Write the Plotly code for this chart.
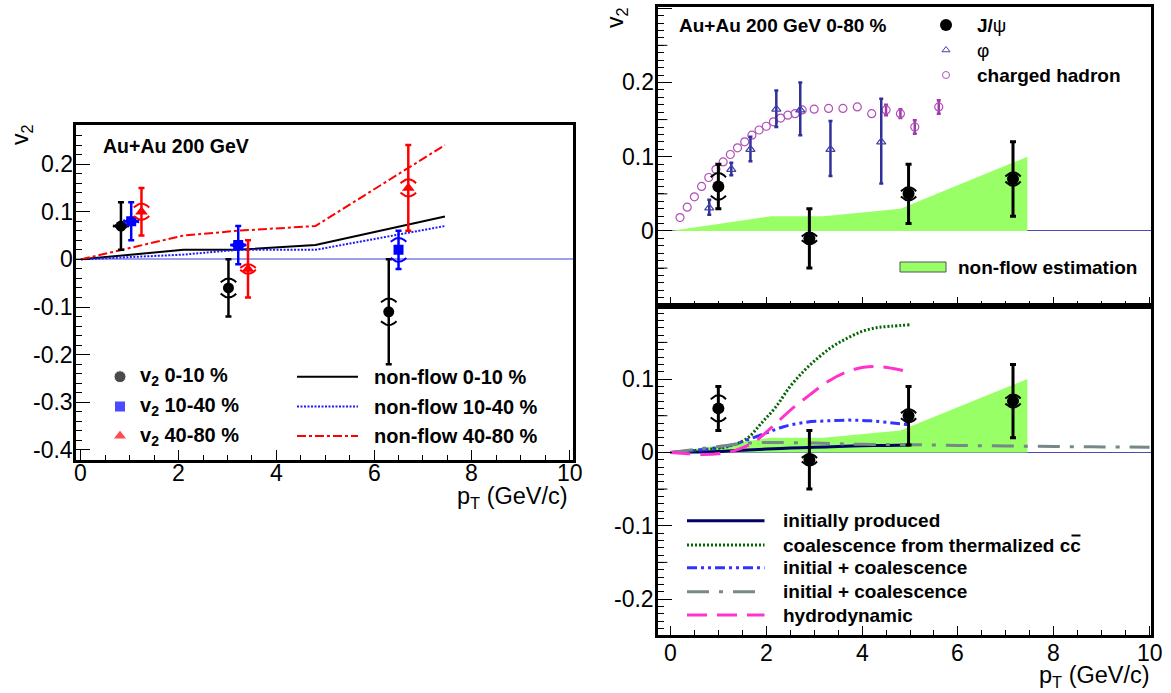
import plotly.graph_objects as go

W, H = 1171, 693

# ---------------- data : left panel (Au+Au 200 GeV, centrality classes) ----------------
c010_x = [0.82, 3.02, 6.30]
c010_y = [0.070, -0.060, -0.110]
c010_stat = [0.050, 0.060, 0.110]
c010_sys = [0.006, 0.020, 0.028]

c1040_x = [1.03, 3.22, 6.50]
c1040_y = [0.080, 0.030, 0.020]
c1040_stat = [0.040, 0.040, 0.040]
c1040_sys = [0.005, 0.006, 0.025]

c4080_x = [1.24, 3.42, 6.70]
c4080_y = [0.100, -0.020, 0.150]
c4080_stat = [0.050, 0.060, 0.090]
c4080_sys = [0.017, 0.010, 0.018]

nf_x = [0.0, 2.1, 3.2, 4.8, 7.45]
nf010_y = [0.0, 0.020, 0.020, 0.030, 0.090]
nf1040_y = [0.0, 0.010, 0.020, 0.020, 0.070]
nf4080_y = [0.0, 0.050, 0.060, 0.070, 0.240]

# ---------------- data : right panels (0-80 %) ----------------
nf080_x = [0.0, 2.1, 3.2, 4.8, 7.45]
nf080_y = [0.0, 0.020, 0.020, 0.030, 0.100]

jpsi_x = [1.00, 2.90, 4.97, 7.15]
jpsi_y = [0.060, -0.010, 0.050, 0.070]
jpsi_stat = [0.030, 0.040, 0.040, 0.050]
jpsi_sys = [0.018, 0.008, 0.009, 0.009]

phi_x = [0.81, 1.27, 1.67, 2.21, 2.71, 3.34, 4.40]
phi_y = [0.031, 0.083, 0.110, 0.164, 0.163, 0.110, 0.120]
phi_err_up = [0.011, 0.009, 0.017, 0.025, 0.037, 0.038, 0.058]
phi_err_dn = [0.009, 0.008, 0.016, 0.024, 0.034, 0.036, 0.056]

ch_x = [0.20, 0.35, 0.50, 0.65, 0.80, 0.95, 1.10, 1.25, 1.40, 1.55, 1.70, 1.85, 2.00, 2.15,
        2.30, 2.45, 2.60, 2.75, 3.00, 3.30, 3.60, 3.90, 4.20, 4.50, 4.80, 5.10, 5.60]
ch_y = [0.018, 0.032, 0.046, 0.060, 0.072, 0.083, 0.093, 0.103, 0.112, 0.120, 0.129, 0.136,
        0.141, 0.147, 0.152, 0.156, 0.158, 0.163, 0.164, 0.165, 0.165, 0.167, 0.158, 0.163,
        0.158, 0.140, 0.167]
# charged hadron points with visible error bars (high pT)
che_x = [4.50, 4.80, 5.10, 5.60]
che_y = [0.163, 0.158, 0.140, 0.167]
che_err = [0.007, 0.006, 0.009, 0.009]

# model curves
ip_x = [0, 0.5, 1.0, 1.5, 2.0, 2.5, 3.0, 3.5, 4.0, 4.5, 5.0]
ip_y = [0, 0.0005, 0.0012, 0.003, 0.0045, 0.006, 0.007, 0.008, 0.009, 0.0095, 0.010]

coal_x = [0, 0.4, 0.8, 1.2, 1.6, 1.9, 2.2, 2.5, 2.8, 3.1, 3.4, 3.7, 4.0, 4.3, 4.6, 5.0]
coal_y = [0, 0.002, 0.004, 0.008, 0.019, 0.040, 0.062, 0.090, 0.112, 0.130, 0.145, 0.156,
          0.165, 0.170, 0.172, 0.174]

ic1_x = [0, 0.4, 0.84, 1.22, 1.6, 1.98, 2.36, 2.81, 3.27, 3.73, 4.18, 4.64, 4.94]
ic1_y = [0, 0.002, 0.005, 0.009, 0.017, 0.026, 0.035, 0.041, 0.043, 0.044, 0.043, 0.040, 0.038]

ic2_x = [0, 0.5, 1.0, 1.5, 2.0, 3.0, 4.0, 5.0, 6.0, 7.0, 8.0, 9.0, 10.0]
ic2_y = [0, 0.004, 0.008, 0.012, 0.0135, 0.0127, 0.011, 0.0105, 0.0095, 0.0088, 0.008,
         0.0075, 0.007]

hy_x = [0, 0.3, 0.68, 1.06, 1.37, 1.75, 2.13, 2.51, 2.9, 3.27, 3.65, 4.03, 4.33, 4.64, 4.9]
hy_y = [0, -0.0014, -0.003, -0.0014, 0.003, 0.0145, 0.035, 0.058, 0.078, 0.096, 0.109,
        0.116, 0.117, 0.1145, 0.111]

# tick labels
x_tickvals = [0, 2, 4, 6, 8, 10]
x_ticktext = ["0", "2", "4", "6", "8", "10"]
yl_tickvals = [-0.4, -0.3, -0.2, -0.1, 0, 0.1, 0.2]
yl_ticktext = ["-0.4", "-0.3", "-0.2", "-0.1", "0", "0.1", "0.2"]
yt_tickvals = [0, 0.1, 0.2]
yt_ticktext = ["0", "0.1", "0.2"]
yb_tickvals = [-0.2, -0.1, 0, 0.1]
yb_ticktext = ["-0.2", "-0.1", "0", "0.1"]
# intermediate-length ticks on the right-hand y axes
yt_midticks = [-0.05, 0.05, 0.15, 0.25]
yb_midticks = [-0.15, -0.05, 0.05, 0.15]

# ---------------- helpers ----------------
FONT = "Liberation Sans, Arial, Helvetica, sans-serif"
ARC = [-1.0, -0.7, -0.35, 0.0, 0.35, 0.7, 1.0]


def brackets(x, y, s, dx, dy):
    xs, ys = [], []
    for xi, yi, si in zip(x, y, s):
        for sign in (1, -1):
            yb = yi + sign * si
            xs += [xi + t * dx for t in ARC] + [None]
            ys += [yb - sign * dy * t * t for t in ARC] + [None]
    return xs, ys


fig = go.Figure()


def add_points(x, y, stat, sys, color, symbol, size, xa, ya, dx, dy, thick=2.5):
    bx, by = brackets(x, y, sys, dx, dy)
    fig.add_trace(go.Scatter(x=bx, y=by, mode="lines", line=dict(color=color, width=2),
                             xaxis=xa, yaxis=ya, showlegend=False, hoverinfo="skip"))
    fig.add_trace(go.Scatter(x=x, y=y, mode="markers",
                             marker=dict(color=color, symbol=symbol, size=size, line=dict(width=0)),
                             error_y=dict(type="data", array=stat, color=color, thickness=thick, width=3),
                             xaxis=xa, yaxis=ya, showlegend=False))


# ---------------- left panel ----------------
fig.add_trace(go.Scatter(x=nf_x, y=nf010_y, mode="lines", line=dict(color="black", width=2),
                         xaxis="x", yaxis="y", showlegend=False))
fig.add_trace(go.Scatter(x=nf_x, y=nf1040_y, mode="lines",
                         line=dict(color="#1a1aff", width=2, dash="2px,1.5px"),
                         xaxis="x", yaxis="y", showlegend=False))
fig.add_trace(go.Scatter(x=nf_x, y=nf4080_y, mode="lines",
                         line=dict(color="#ff0000", width=2, dash="9px,3px,3px,3px"),
                         xaxis="x", yaxis="y", showlegend=False))
add_points(c010_x, c010_y, c010_stat, c010_sys, "black", "circle", 11, "x", "y", 0.16, 0.008)
add_points(c1040_x, c1040_y, c1040_stat, c1040_sys, "#0000ff", "square", 10, "x", "y", 0.16, 0.008)
add_points(c4080_x, c4080_y, c4080_stat, c4080_sys, "#ff0000", "triangle-up", 11, "x", "y", 0.16, 0.008)

# ---------------- right top panel ----------------
GREEN = "#99ff66"
fig.add_trace(go.Scatter(x=nf080_x, y=nf080_y, mode="lines", fill="tozeroy", fillcolor=GREEN,
                         line=dict(width=0, color=GREEN), xaxis="x2", yaxis="y2", showlegend=False))
fig.add_trace(go.Scatter(x=che_x, y=che_y, mode="markers", marker=dict(size=1, opacity=0),
                         error_y=dict(type="data", array=che_err, color="#a03aa8", thickness=2.5, width=2),
                         xaxis="x2", yaxis="y2", showlegend=False))
fig.add_trace(go.Scatter(x=ch_x, y=ch_y, mode="markers",
                         marker=dict(symbol="circle-open", size=8, color="#b050b8", line=dict(width=1.2)),
                         xaxis="x2", yaxis="y2", showlegend=False))
fig.add_trace(go.Scatter(x=phi_x, y=phi_y, mode="markers",
                         marker=dict(symbol="triangle-up-open", size=8, color="#4040a8", line=dict(width=1.2)),
                         error_y=dict(type="data", array=phi_err_up, arrayminus=phi_err_dn,
                                      color="#30309a", thickness=2.5, width=2),
                         xaxis="x2", yaxis="y2", showlegend=False))
add_points(jpsi_x, jpsi_y, jpsi_stat, jpsi_sys, "black", "circle", 12, "x2", "y2", 0.16, 0.0055, 3)

# ---------------- right bottom panel ----------------
fig.add_trace(go.Scatter(x=nf080_x, y=nf080_y, mode="lines", fill="tozeroy", fillcolor=GREEN,
                         line=dict(width=0, color=GREEN), xaxis="x3", yaxis="y3", showlegend=False))
models = [
    (ip_x, ip_y, "#000066", "solid"),
    (coal_x, coal_y, "#006600", "2px,2px"),
    (ic1_x, ic1_y, "#3333ff", "10px,4px,3px,4px,3px,4px"),
    (ic2_x, ic2_y, "#778888", "22px,10px,4px,10px"),
    (hy_x, hy_y, "#ff33cc", "20px,10px"),
]
for mx, my, col, dash in models:
    fig.add_trace(go.Scatter(x=mx, y=my, mode="lines", line=dict(color=col, width=3, dash=dash, shape="spline"),
                             xaxis="x3", yaxis="y3", showlegend=False))
add_points(jpsi_x, jpsi_y, jpsi_stat, jpsi_sys, "black", "circle", 12, "x3", "y3", 0.16, 0.0055, 3)

# ---------------- legends (pixel overlay axes x4/y4) ----------------
fig.add_trace(go.Scatter(x=[120, 120, 120], y=[376.7, 406.5, 436], mode="markers",
                         marker=dict(symbol=["circle", "square", "triangle-up"], size=[12, 11, 12],
                                     color=["black", "#0000ff", "#ff0000"]),
                         xaxis="x4", yaxis="y4", showlegend=False, cliponaxis=False))
fig.add_trace(go.Scatter(x=[946], y=[25], mode="markers", marker=dict(symbol="circle", size=12, color="black"),
                         xaxis="x4", yaxis="y4", showlegend=False))
fig.add_trace(go.Scatter(x=[946], y=[50], mode="markers",
                         marker=dict(symbol="triangle-up-open", size=7, color="#4040a8", line=dict(width=1)),
                         xaxis="x4", yaxis="y4", showlegend=False))
fig.add_trace(go.Scatter(x=[946], y=[75], mode="markers",
                         marker=dict(symbol="circle-open", size=7, color="#b050b8", line=dict(width=1)),
                         xaxis="x4", yaxis="y4", showlegend=False))

shapes = []
ann = []


def line_sample(x0, x1, y, color, dash, width):
    shapes.append(dict(type="line", xref="x4", yref="y4", x0=x0, x1=x1, y0=y, y1=y,
                       line=dict(color=color, width=width, dash=dash)))


def text(x, y, s, size, xanchor="left", angle=0, bold=True):
    ann.append(dict(x=x, y=y, xref="x4", yref="y4", text=("<b>%s</b>" % s) if bold else s,
                    showarrow=False, xanchor=xanchor, yanchor="middle", textangle=angle,
                    font=dict(family=FONT, size=size, color="black")))


# left legend
text(138, 376.7, "v<sub>2</sub> 0-10 %", 20)
text(138, 406.5, "v<sub>2</sub> 10-40 %", 20)
text(138, 436, "v<sub>2</sub> 40-80 %", 20)
line_sample(297, 358, 376.7, "black", "solid", 2)
line_sample(297, 358, 406.5, "#1a1aff", "2px,1.5px", 2)
line_sample(297, 358, 436, "#ff0000", "9px,3px,3px,3px", 2)
text(372, 376.7, "non-flow 0-10 %", 20)
text(372, 406.5, "non-flow 10-40 %", 20)
text(372, 436, "non-flow 40-80 %", 20)
text(101, 146, "Au+Au 200 GeV", 19.5)

# right top legend
text(677, 25, "Au+Au 200 GeV 0-80 %", 19)
ann.append(dict(x=975, y=25, xref="x4", yref="y4", text="<b>J/</b>ψ", showarrow=False,
                xanchor="left", yanchor="middle", font=dict(family=FONT, size=19, color="black")))
ann.append(dict(x=975, y=50, xref="x4", yref="y4", text="φ", showarrow=False,
                xanchor="left", yanchor="middle", font=dict(family=FONT, size=19, color="black")))
text(975, 75, "charged hadron", 19)
shapes.append(dict(type="rect", xref="x4", yref="y4", x0=900, x1=946, y0=262, y1=272,
                   fillcolor=GREEN, line=dict(color="#555555", width=1)))
text(956, 267, "non-flow estimation", 19)

# right bottom legend
leg_y = [520.7, 545, 567.7, 591.7, 615]
leg_txt = ["initially produced", "coalescence from thermalized cc", "initial + coalescence",
           "initial + coalescence", "hydrodynamic"]
for (mx, my, col, dash), yy, t in zip(models, leg_y, leg_txt):
    line_sample(687, 764.5, yy, col, dash, 3)
    text(781, yy, t, 19)
# bar over the anti-charm quark
shapes.append(dict(type="line", xref="x4", yref="y4", x0=1071.5, x1=1080.5, y0=535.5, y1=535.5,
                   line=dict(color="black", width=2)))

# axis titles
text(21, 135, "v<sub>2</sub>", 23, xanchor="center", angle=-90, bold=False)
text(616, 18, "v<sub>2</sub>", 23, xanchor="center", angle=-90, bold=False)
text(570, 497, "p<sub>T</sub> (GeV/c)", 23.5, xanchor="right", bold=False)
text(1152, 676, "p<sub>T</sub> (GeV/c)", 23.5, xanchor="right", bold=False)

# tick labels (placed on the axes' own scales)
TFONT = dict(family=FONT, size=23, color="black")
for v, t in zip(x_tickvals, x_ticktext):
    ann.append(dict(x=v, y=1 - 473 / H, xref="x", yref="paper", text=t, showarrow=False,
                    xanchor="center", yanchor="middle", font=TFONT))
    ann.append(dict(x=v, y=1 - 652.5 / H, xref="x3", yref="paper", text=t, showarrow=False,
                    xanchor="center", yanchor="middle", font=TFONT))
for v, t in zip(yl_tickvals, yl_ticktext):
    ann.append(dict(x=75 / W, y=v, xref="paper", yref="y", text=t, showarrow=False,
                    xanchor="right", yanchor="middle", font=TFONT))
for v, t in zip(yt_tickvals, yt_ticktext):
    ann.append(dict(x=655.5 / W, y=v, xref="paper", yref="y2", text=t, showarrow=False,
                    xanchor="right", yanchor="middle", font=TFONT))
for v, t in zip(yb_tickvals, yb_ticktext):
    ann.append(dict(x=655.5 / W, y=v, xref="paper", yref="y3", text=t, showarrow=False,
                    xanchor="right", yanchor="middle", font=TFONT))

# intermediate ticks on right y axes
for v in yt_midticks:
    shapes.append(dict(type="line", xref="x2 domain", yref="y2", x0=0, x1=0.02, y0=v, y1=v,
                       line=dict(color="black", width=1)))
for v in yb_midticks:
    shapes.append(dict(type="line", xref="x3 domain", yref="y3", x0=0, x1=0.02, y0=v, y1=v,
                       line=dict(color="black", width=1)))

# ---------------- axes ----------------


def xax(domain, anchor, rng, tl=10):
    return dict(domain=domain, anchor=anchor, range=rng, tickmode="array", tickvals=x_tickvals,
                showticklabels=False, ticks="inside", ticklen=tl, tickwidth=1,
                tickcolor="black",
                minor=dict(ticks="inside", ticklen=5, tickmode="linear", tick0=0, dtick=0.5,
                           tickcolor="black", tickwidth=1),
                showline=True, linecolor="black", linewidth=3, mirror=True, showgrid=False,
                zeroline=False, fixedrange=True)


def yax(domain, anchor, rng, tv, mdt, zc, zw, tl=14):
    return dict(domain=domain, anchor=anchor, range=rng, tickmode="array", tickvals=tv,
                showticklabels=False,
                ticks="inside", ticklen=tl, tickwidth=1, tickcolor="black",
                minor=dict(ticks="inside", ticklen=6, tickmode="linear", tick0=0, dtick=mdt,
                           tickcolor="black", tickwidth=1),
                showline=True, linecolor="black", linewidth=3, mirror=True, showgrid=False,
                zeroline=True, zerolinecolor=zc, zerolinewidth=zw, fixedrange=True)


LX = [75.5 / W, 572.5 / W]
LY = [1 - 459.5 / H, 1 - 125 / H]
RX = [657.5 / W, 1151 / W]
RTY = [1 - 306 / H, 1 - 6.7 / H]
RBY = [1 - 635 / H, 1 - 306 / H]

fig.update_layout(
    width=W, height=H, autosize=False, margin=dict(l=0, r=0, t=0, b=0),
    paper_bgcolor="white", plot_bgcolor="rgba(0,0,0,0)", showlegend=False,
    xaxis=xax(LX, "y", [-0.11, 10.06], tl=10),
    yaxis=yax(LY, "x", [-0.42, 0.282], yl_tickvals, 0.02, "#a0a0e6", 2),
    xaxis2=xax(RX, "y2", [-0.27, 10.03], tl=9),
    yaxis2=yax(RTY, "x2", [-0.101, 0.302], [-0.1, 0, 0.1, 0.2, 0.3], 0.01, "#4b4bb4", 1.2),
    xaxis3=xax(RX, "y3", [-0.27, 10.03], tl=9),
    yaxis3=yax(RBY, "x3", [-0.249, 0.1996], [-0.2, -0.1, 0, 0.1, 0.2], 0.01, "#4b4bb4", 1.2),
    xaxis4=dict(domain=[0, 1], anchor="y4", range=[0, W], visible=False, fixedrange=True),
    yaxis4=dict(domain=[0, 1], anchor="x4", range=[H, 0], visible=False, fixedrange=True),
    shapes=shapes, annotations=ann,
)

fig.write_html("out.html")
